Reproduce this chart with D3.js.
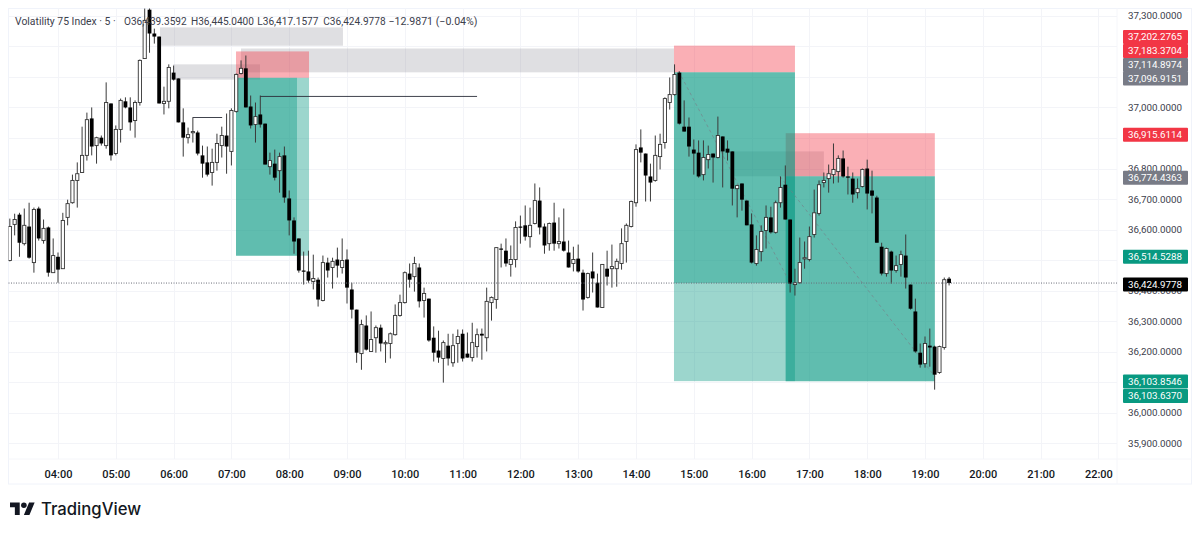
<!DOCTYPE html>
<html>
<head>
<meta charset="utf-8">
<script src="https://cdn.jsdelivr.net/npm/d3@7"></script>
<style>
html, body { margin: 0; padding: 0; background: #fff; }
text { font-family: Roboto, "Liberation Sans", sans-serif; }
</style>
</head>
<body>
<div id="chart"></div>
<script>
// candles, 5 minute bars, first one at 03:10
var firstBarHour = 3 + 10 / 60;
var opens = [36499,36617,36649,36554,36610,36492,36669,36564,36607,36459,
36511,36472,36640,36688,36761,36787,36843,36964,36875,36901,
36875,37013,36849,36928,37020,37000,36957,37016,37160,37320,
37242,37232,37013,37020,37114,37095,36951,36901,36918,36918,
36843,36820,36787,36820,36875,36908,36856,36987,37111,37128,
37003,36944,36977,36947,36806,36816,36793,36843,36702,36630,
36571,36466,36463,36430,36436,36368,36492,36476,36502,36476,
36502,36404,36338,36194,36286,36201,36246,36279,36227,36227,
36256,36319,36361,36456,36446,36476,36368,36374,36246,36204,
36178,36220,36164,36227,36259,36194,36181,36217,36259,36246,
36361,36371,36538,36531,36486,36502,36610,36614,36577,36620,
36695,36610,36554,36623,36554,36561,36525,36489,36505,36459,
36378,36463,36426,36345,36472,36472,36472,36489,36561,36610,
36688,36869,36849,36774,36761,36839,36885,37016,37042,37114,
36937,36937,36862,36852,36780,36829,36849,36836,36905,36865,
36856,36734,36751,36695,36617,36489,36528,36597,36640,36591,
36688,36747,36633,36420,36426,36505,36502,36584,36653,36754,
36767,36780,36790,36833,36774,36767,36721,36741,36800,36728,
36705,36544,36456,36528,36466,36486,36515,36420,36332,36197,
36161,36220,36217,36132,36214,36439.3592];
var highs = [36636,36652,36655,36669,36688,36672,36675,36633,36610,36571,
36525,36655,36698,36780,36820,36937,36983,37000,36904,36908,
37082,37013,36941,37029,37033,37033,37023,37157,37325,37340,
37258,37232,37068,37141,37137,37095,36997,36934,36967,36924,
36875,36872,36865,36914,36937,36980,36997,37111,37154,37170,
37039,37016,37039,36947,36852,36862,36852,36872,36728,36640,
36571,36528,36531,36518,36443,36515,36508,36508,36541,36571,
36535,36426,36338,36305,36319,36332,36286,36289,36237,36263,
36355,36387,36463,36489,36511,36489,36410,36374,36283,36269,
36237,36259,36259,36273,36273,36263,36295,36276,36276,36410,
36381,36541,36554,36571,36548,36627,36646,36679,36672,36751,
36738,36620,36623,36688,36640,36669,36564,36544,36551,36469,
36459,36525,36456,36486,36531,36551,36505,36604,36620,36695,
36879,36928,36849,36816,36908,36914,37033,37098,37141,37118,
37023,36967,36895,36892,36892,36875,36849,36970,36905,36892,
36856,36747,36751,36695,36653,36581,36614,36679,36675,36695,
36774,36810,36633,36472,36574,36561,36610,36731,36761,36787,
36813,36882,36843,36859,36806,36787,36767,36800,36829,36793,
36711,36557,36541,36531,36515,36531,36584,36420,36374,36227,
36250,36276,36220,36220,36443,36445.04];
var lows = [36496,36581,36511,36548,36505,36459,36564,36554,36446,36459,
36426,36472,36614,36685,36672,36787,36826,36843,36816,36875,
36865,36826,36843,36885,36997,36924,36901,37006,37160,37179,
37209,37013,36977,36997,37088,36951,36839,36882,36885,36843,
36770,36774,36744,36793,36836,36783,36810,36983,37108,37000,
36931,36885,36934,36813,36780,36761,36721,36688,36581,36521,
36459,36420,36426,36404,36348,36365,36443,36407,36443,36456,
36358,36309,36164,36141,36204,36201,36197,36201,36164,36178,
36253,36315,36358,36410,36397,36345,36312,36233,36168,36164,
36099,36155,36151,36164,36168,36181,36168,36181,36174,36201,
36302,36341,36476,36479,36446,36476,36554,36564,36541,36617,
36584,36521,36531,36531,36538,36528,36476,36463,36459,36335,
36374,36394,36345,36345,36417,36410,36413,36469,36492,36607,
36675,36820,36692,36692,36757,36797,36865,36993,37039,36944,
36921,36839,36780,36770,36761,36800,36754,36833,36738,36826,
36679,36640,36662,36614,36489,36482,36496,36538,36587,36587,
36672,36633,36394,36384,36423,36472,36496,36574,36646,36738,
36721,36751,36754,36770,36715,36688,36702,36738,36666,36653,
36557,36450,36446,36423,36459,36446,36407,36338,36197,36148,
36148,36151,36076,36128,36207,36417.1577];
var closes = [36610,36633,36557,36614,36508,36666,36571,36604,36459,36515,
36469,36630,36685,36761,36783,36843,36960,36872,36901,36882,
37016,36843,36928,37023,37000,36951,37016,37154,37285,37242,
37232,37013,37020,37131,37091,36951,36901,36911,36921,36849,
36816,36780,36820,36882,36908,36872,36990,37108,37128,37000,
36941,36970,36944,36813,36826,36770,36839,36705,36630,36561,
36466,36463,36433,36440,36371,36492,36466,36496,36482,36499,
36410,36338,36197,36289,36207,36240,36279,36227,36230,36259,
36319,36361,36459,36436,36489,36365,36391,36237,36197,36181,
36230,36178,36220,36250,36178,36181,36230,36256,36253,36365,
36378,36541,36535,36489,36502,36607,36607,36577,36614,36695,
36607,36548,36620,36554,36561,36531,36476,36502,36463,36371,
36456,36440,36345,36486,36446,36479,36496,36554,36614,36692,
36862,36852,36777,36754,36843,36879,37029,37042,37108,36947,
36921,36872,36849,36774,36836,36846,36836,36908,36856,36852,
36734,36744,36698,36614,36492,36535,36594,36640,36591,36688,
36738,36633,36423,36426,36492,36508,36577,36655,36747,36761,
36783,36797,36833,36774,36770,36715,36734,36797,36718,36711,
36557,36456,36538,36466,36482,36518,36443,36341,36201,36158,
36227,36214,36125,36217,36436,36424.9778];

var hourTicks = d3.range(4, 23);
var gridPrices = d3.range(35900, 37301, 100);
// 37,200 37,100 36,900 36,500 and 36,100 are covered by the price tags
var priceLabels = [37300,37000,36800,36700,36600,36400,36300,36200,36000,35900];
var lastPrice = 36424.9778;

// drawings: [hour from, hour to, price top, price bottom]
var grayZones = [[5.765,8.93,37262,37202],[5.99,7.495,37141,37091],[7.166,14.657,37193,37114.8974],[15.68,17.25,36856,36774.4363]];
var stopZones = [[7.08,8.343,37183.3704,37096.9151],[14.657,16.75,37202.2765,37114.8974],[16.59,19.17,36915.6114,36774.4363]];
var targetZones = [[7.08,8.343,37096.9151,36514.5288],[14.657,16.75,37114.8974,36103.8546],[16.59,19.17,36774.4363,36103.6370]];
var targetFills = [[7.08,8.135,37096.9151,36514.5288],[14.657,16.75,37114.8974,36424.9778],[16.59,19.17,36774.4363,36103.6370]];
// [hour from, price from, hour to, price to]
var levelLines = [[6.33,36967,6.84,36967],[7.495,37036,11.25,37036]];
var pathLines = [[14.74,37118,16.66,36427],[16.49,36774.4363,19.17,36119]];

var tagValues = [37202.2765,37183.3704,37114.8974,37096.9151,36915.6114,36774.4363,36514.5288,36424.9778,36103.8546,36103.6370];
var tagKinds = ['stop','stop','zone','zone','stop','zone','target','last','target','target'];
var tagNudges = [-8.6,-0.4,-7.3,0.7,1.5,1.4,1,1.5,0.4,14.8];
var tagColors = { stop:'#f23645', zone:'#787b86', target:'#089981', last:'#000000' };

var titleParts = ['Volatility 75 Index · 5 ·','O36,439.3592','H36,445.0400','L36,417.1577','C36,424.9778','−12.9871 (−0.04%)'];
var titleOffsets = [15,124,191,257.3,323.3,388.5];
var titleSizes = [10.4,10.1,10.1,10.1,10.1,10.6];

var width = 1200, height = 534;
var left = 8.5, top_ = 8.5, paneRight = 1117, paneBottom = 459, outerRight = 1191.5, outerBottom = 484;

var x = d3.scaleLinear().domain([4,22]).range([58,1098.4]);
var y = d3.scaleLinear().domain([37300,35900]).range([15.8,443.4]);

var svg = d3.select('#chart').append('svg').attr('width',width).attr('height',height).style('display','block');

svg.append('clipPath').attr('id','pane').append('rect')
	.attr('x',left).attr('y',top_).attr('width',paneRight-left).attr('height',paneBottom-top_);

// frame and grid
svg.append('rect').attr('x',left).attr('y',top_).attr('width',outerRight-left).attr('height',outerBottom-top_)
	.attr('fill','none').attr('stroke','#f0f3fa');
svg.append('line').attr('x1',left).attr('x2',outerRight).attr('y1',paneBottom).attr('y2',paneBottom).attr('stroke','#f5f6fa');
svg.append('line').attr('x1',paneRight).attr('x2',paneRight).attr('y1',top_).attr('y2',outerBottom).attr('stroke','#f5f6fa');
svg.selectAll('.vgrid').data(hourTicks).enter().append('line').attr('class','vgrid')
	.attr('x1',d => Math.round(x(d))+0.5).attr('x2',d => Math.round(x(d))+0.5).attr('y1',top_).attr('y2',paneBottom).attr('stroke','#f3f4f8');
svg.selectAll('.hgrid').data(gridPrices).enter().append('line').attr('class','hgrid')
	.attr('y1',d => Math.round(y(d))+0.5).attr('y2',d => Math.round(y(d))+0.5).attr('x1',left).attr('x2',paneRight).attr('stroke','#f3f4f8');

var pane = svg.append('g').attr('clip-path','url(#pane)');

function zones(data,fill,opacity) {
	pane.append('g').selectAll('rect').data(data).enter().append('rect')
		.attr('x',d => x(d[0])).attr('width',d => x(d[1])-x(d[0]))
		.attr('y',d => y(d[2])).attr('height',d => y(d[3])-y(d[2]))
		.attr('fill',fill).attr('fill-opacity',opacity);
}
zones(grayZones,'#787b86',0.24);
zones(stopZones,'#f23645',0.4);
zones(targetZones,'#089981',0.4);
zones(targetFills,'#089981',0.4);

// dashed trade paths
pane.append('g').selectAll('line').data(pathLines).enter().append('line')
	.attr('x1',d => x(d[0])).attr('y1',d => y(d[1])).attr('x2',d => x(d[2])).attr('y2',d => y(d[3]))
	.attr('stroke','#787b86').attr('stroke-opacity',0.6).attr('stroke-dasharray','3,3');

// last price line
svg.append('line').attr('x1',left).attr('x2',paneRight).attr('y1',y(lastPrice)).attr('y2',y(lastPrice))
	.attr('stroke','#6a6d78').attr('stroke-dasharray','1,1.5');

// legend, the bars sit on top of it
svg.append('g').selectAll('text').data(titleParts).enter().append('text')
	.attr('x',(d,i) => titleOffsets[i]).attr('y',25).attr('font-size',(d,i) => titleSizes[i]).attr('fill','#3c404c').text(d => d);

pane.append('g').selectAll('line').data(levelLines).enter().append('line')
	.attr('x1',d => x(d[0])).attr('y1',d => y(d[1])).attr('x2',d => x(d[2])).attr('y2',d => y(d[3]))
	.attr('stroke','#2a2e39').attr('stroke-width',0.9);

// candles
var bars = pane.append('g').selectAll('g').data(opens).enter().append('g')
	.attr('transform',(d,i) => 'translate('+x(firstBarHour+i/12)+',0)');
bars.append('line')
	.attr('y1',(d,i) => y(highs[i])).attr('y2',(d,i) => y(lows[i]))
	.attr('stroke','#3a3a3a').attr('stroke-width',1);
bars.append('rect')
	.attr('x',(d,i) => closes[i]>=opens[i] ? -1.6 : -1.9)
	.attr('width',(d,i) => closes[i]>=opens[i] ? 3.2 : 3.8)
	.attr('y',(d,i) => y(Math.max(opens[i],closes[i])))
	.attr('height',(d,i) => Math.max(1.2,Math.abs(y(opens[i])-y(closes[i]))))
	.attr('fill',(d,i) => closes[i]>=opens[i] ? '#fff' : '#000')
	.attr('stroke',(d,i) => closes[i]>=opens[i] ? '#333' : 'none')
	.attr('stroke-width',0.9);

// axes
var xAxis = d3.axisBottom(x).tickValues(hourTicks).tickSize(0).tickPadding(11)
	.tickFormat(d => d3.format('02')(d)+':00');
var gx = svg.append('g').attr('transform','translate(0,'+paneBottom+')').call(xAxis);
gx.select('.domain').remove();
gx.selectAll('text').attr('font-size',11).attr('font-weight',500).attr('fill','#131722').style('font-family','Roboto');

var yAxis = d3.axisRight(y).tickValues(priceLabels).tickSize(0).tickPadding(0)
	.tickFormat(d3.format(',.4f'));
var gy = svg.append('g').attr('transform','translate(1128,0)').call(yAxis);
gy.select('.domain').remove();
gy.selectAll('text').attr('font-size',9.8).attr('fill','#3c404c').style('font-family','Roboto');

// price tags
var tags = svg.append('g').selectAll('g').data(tagValues).enter().append('g')
	.attr('transform',(d,i) => 'translate(1123,'+(y(d)+tagNudges[i])+')');
tags.append('rect').attr('x',0).attr('y',-7).attr('width',65).attr('height',14).attr('rx',1)
	.attr('fill',(d,i) => tagColors[tagKinds[i]]);
tags.append('text').attr('x',5).attr('dy','0.35em').attr('font-size',9.8).attr('fill','#fff')
	.text(d => d3.format(',.4f')(d));

// logo
var logo = svg.append('g').attr('transform','translate(10,499.7) scale(0.694)').attr('fill','#131722');
logo.append('path').attr('d','M14 22H7V11H0V4h14v18zM28 22h-8l7.5-18h8L28 22z');
logo.append('circle').attr('cx',20).attr('cy',8).attr('r',4);
svg.append('text').attr('x',41).attr('y',515).attr('font-size',16.7).attr('font-weight',500)
	.attr('fill','#131722').style('font-family','Inter').text('TradingView');
</script>
</body>
</html>
